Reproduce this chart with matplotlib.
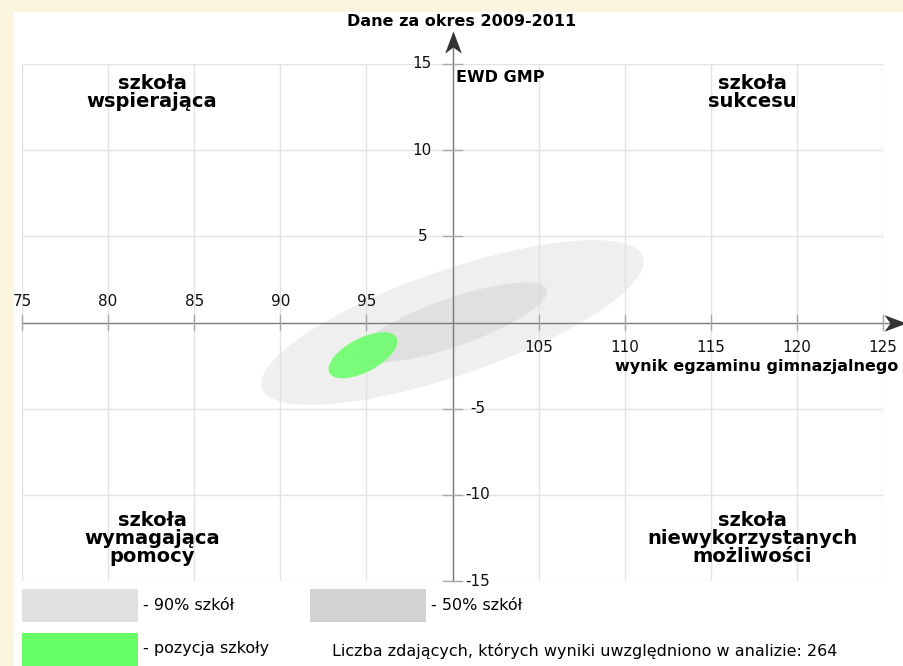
import numpy as np
import matplotlib
matplotlib.use("Agg")
import matplotlib.pyplot as plt
from matplotlib.patches import Ellipse, Rectangle
from matplotlib.path import Path

# ---- data ----
x_ticks = [75, 80, 85, 90, 95, 100, 105, 110, 115, 120, 125]
y_ticks = [-15, -10, -5, 0, 5, 10, 15]

# ellipses: 90% of schools, 50% of schools, this school's position
ell_names = ["90% szkół", "50% szkół", "pozycja szkoły"]
ell_cx = [100.0, 100.0, 94.8]
ell_cy = [0.0, 0.0, -1.9]
ell_a = [11.7, 5.8, 2.2]       # semi-major
ell_b = [3.05, 1.4, 0.98]      # semi-minor
ell_angle = [19.0, 19.3, 27.7]

n_students = 264
period = "2009-2011"

quadrants = ["szkoła\nwspierająca", "szkoła\nsukcesu",
             "szkoła\nwymagająca\npomocy", "szkoła\nniewykorzystanych\nmożliwości"]

# ---- figure ----
W, H = 904, 666
fig = plt.figure(figsize=(W / 100, H / 100), dpi=100)
fig.patch.set_facecolor("#FBF5E0")


def fx(px):
    return px / W


def fy(py):
    return 1 - py / H


# white page
fig.add_artist(Rectangle((fx(14), 0), 1 - fx(14), fy(12), transform=fig.transFigure,
                         facecolor="white", edgecolor="none", zorder=0))

ax = fig.add_axes([fx(22), fy(581), fx(883) - fx(22), fy(64) - fy(581)])
ax.set_xlim(75, 125)
ax.set_ylim(-15, 15)
ax.axis("off")
ax.patch.set_alpha(0)

grid_c = "#E3E3E3"
axis_c = "#7A7A7A"
tick_c = "#A8A8A8"
for x in x_ticks:
    ax.plot([x, x], [-15, 15], color=grid_c, lw=1, zorder=1)
for y in y_ticks:
    if y != 0:
        ax.plot([75, 125], [y, y], color=grid_c, lw=1, zorder=1)

fills = [("#E0E0E0", 0.5), ("#D3D3D3", 0.5), ("#66FF66", 0.85)]
for i in range(3):
    e = Ellipse((ell_cx[i], ell_cy[i]), 2 * ell_a[i], 2 * ell_b[i], angle=ell_angle[i],
                facecolor=fills[i][0], alpha=fills[i][1], edgecolor="none", zorder=2)
    ax.add_patch(e)

# axes lines
ax.plot([75, 125.6], [0, 0], color=axis_c, lw=1, zorder=3, clip_on=False)
ax.plot([100, 100], [-15, 16.1], color=axis_c, lw=1, zorder=3, clip_on=False)

# notched arrow heads
head_right = Path([(1, 0), (-1, 0.75), (-0.45, 0), (-1, -0.75), (1, 0)],
                  [Path.MOVETO, Path.LINETO, Path.LINETO, Path.LINETO, Path.CLOSEPOLY])
head_up = Path([(0, 1), (0.75, -1), (0, -0.45), (-0.75, -1), (0, 1)],
               [Path.MOVETO, Path.LINETO, Path.LINETO, Path.LINETO, Path.CLOSEPOLY])
ax.plot([125.72], [0], marker=head_right, markersize=16, color="#333333",
        markeredgewidth=0, zorder=4, clip_on=False)
ax.plot([100], [16.25], marker=head_up, markersize=16, color="#333333",
        markeredgewidth=0, zorder=4, clip_on=False)

tick_font = dict(fontsize=11, color="#111111")
for x in x_ticks:
    if x == 100:
        continue
    ax.plot([x, x], [-0.42, 0.42], color=tick_c, lw=1, zorder=3, clip_on=False)
    if x < 100:
        ax.text(x, 1.2, str(x), ha="center", va="center", **tick_font)
    else:
        ax.text(x, -1.45, str(x), ha="center", va="center", **tick_font)
for y in y_ticks:
    if y == 0:
        continue
    ax.plot([99.45, 100.55], [y, y], color=tick_c, lw=1, zorder=3, clip_on=False)
    if y > 0:
        ax.text(98.25, y, str(y), ha="center", va="center", **tick_font)
    else:
        ax.text(101.45, y, str(y), ha="center", va="center", **tick_font)

ax.text(100.2, 14.2, "EWD GMP", ha="left", va="center", fontsize=11.5, fontweight="bold")
ax.text(125.9, -2.55, "wynik egzaminu gimnazjalnego", ha="right", va="center",
        fontsize=11.5, fontweight="bold")

q_font = dict(fontsize=14, fontweight="bold", ha="center", va="center", linespacing=0.95)
ax.text(82.55, 13.35, quadrants[0], **q_font)
ax.text(117.4, 13.35, quadrants[1], **q_font)
ax.text(82.55, -12.54, quadrants[2], **q_font)
ax.text(117.4, -12.54, quadrants[3], **q_font)

fig.text(fx(462), fy(22), f"Dane za okres {period}", ha="center", va="center",
         fontsize=11.5, fontweight="bold")

# legend
leg_boxes = [(22, 589, "#E0E0E0"), (310, 589, "#D3D3D3"), (22, 633, "#66FF66")]
for i, (px, py, c) in enumerate(leg_boxes):
    fig.add_artist(Rectangle((fx(px), fy(py + 33)), fx(116), 33 / H, transform=fig.transFigure,
                             facecolor=c, edgecolor="none"))
    fig.text(fx(px + 121), fy(py + 16), "- " + ell_names[i], ha="left", va="center", fontsize=11.5)

fig.text(fx(332), fy(651), f"Liczba zdających, których wyniki uwzględniono w analizie: {n_students}",
         ha="left", va="center", fontsize=11.5)

fig.savefig("out.png", dpi=100, facecolor=fig.get_facecolor())
